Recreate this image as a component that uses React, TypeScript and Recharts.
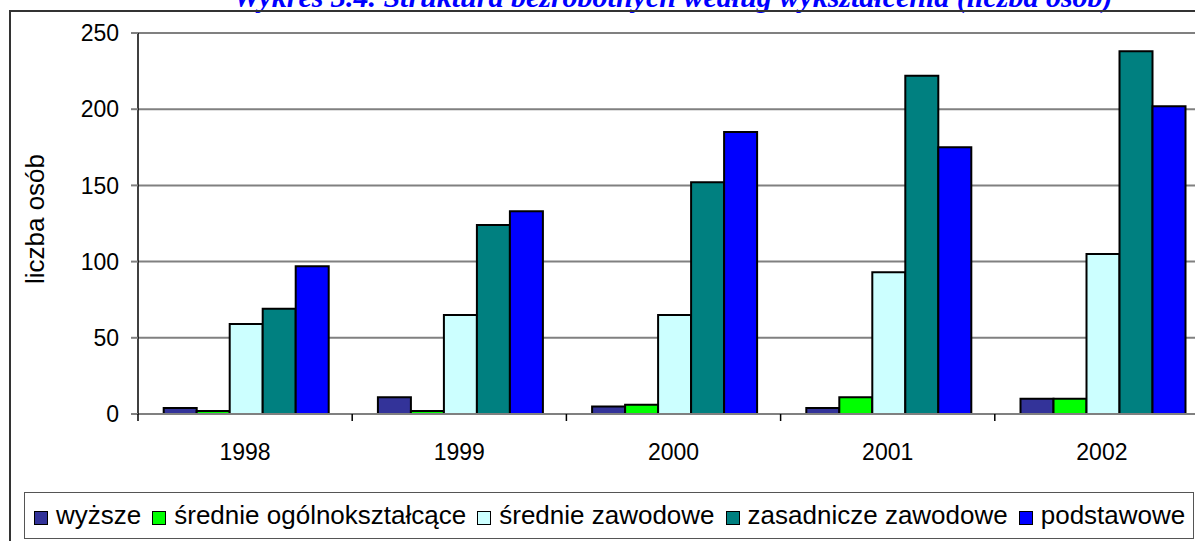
import { BarChart, Bar, XAxis, YAxis, CartesianGrid } from "recharts";

// ─── data ────────────────────────────────────────────────────────────────────
const years = ["1998", "1999", "2000", "2001", "2002"];
const wyzsze = [4, 11, 5, 4, 10];
const srednieOgolne = [2, 2, 6, 11, 10];
const srednieZawodowe = [59, 65, 65, 93, 105];
const zasadniczeZawodowe = [69, 124, 152, 222, 238];
const podstawowe = [97, 133, 185, 175, 202];
const yTicks = [0, 50, 100, 150, 200, 250];

const series = [
  { key: "wyzsze", name: "wyższe", color: "#333399", values: wyzsze },
  { key: "sro", name: "średnie ogólnokształcące", color: "#00FF00", values: srednieOgolne },
  { key: "srz", name: "średnie zawodowe", color: "#CCFFFF", values: srednieZawodowe },
  { key: "zz", name: "zasadnicze zawodowe", color: "#008080", values: zasadniczeZawodowe },
  { key: "pod", name: "podstawowe", color: "#0000FF", values: podstawowe },
];

const data = years.map((year, i) => {
  const row: Record<string, string | number> = { year };
  series.forEach((s) => (row[s.key] = s.values[i]));
  return row;
});

const FONT = "'Liberation Sans', Arial, sans-serif";

// Excel-style category axis: tick marks sit between categories, label in the middle
function YearTick(props: any) {
  const { x, y, payload, width, visibleTicksCount, index } = props;
  const band = width / visibleTicksCount;
  const axisY = y - 30;
  return (
    <g>
      <line x1={x - band / 2} x2={x - band / 2} y1={axisY} y2={axisY + 7} stroke="#000" strokeWidth={1.5} />
      {index === visibleTicksCount - 1 && (
        <line x1={x + band / 2} x2={x + band / 2} y1={axisY} y2={axisY + 7} stroke="#000" strokeWidth={1.5} />
      )}
      <text x={x} y={y} dy="0.71em" textAnchor="middle" fontSize={23} fill="#000" fontFamily={FONT}>
        {payload.value}
      </text>
    </g>
  );
}

export default function App() {
  return (
    <div
      style={{
        position: "fixed",
        left: 0,
        top: 0,
        width: 1195,
        height: 541,
        overflow: "hidden",
        background: "#fff",
        fontFamily: FONT,
      }}
    >
      {/* title, clipped at the top like the source */}
      <div
        style={{
          position: "absolute",
          left: 673,
          top: -20,
          transform: "translateX(-50%)",
          whiteSpace: "nowrap",
          fontFamily: "'Liberation Serif', 'Times New Roman', serif",
          fontStyle: "italic",
          fontWeight: "bold",
          fontSize: 30,
          color: "#0000FF",
        }}
      >
        Wykres 3.4. Struktura bezrobotnych według wykształcenia (liczba osób)
      </div>

      {/* outer frame */}
      <div
        style={{
          position: "absolute",
          left: 9,
          top: 10,
          width: 1300,
          height: 600,
          borderLeft: "2px solid #333",
          borderTop: "2px solid #333",
        }}
      />

      <div style={{ position: "absolute", left: 0, top: 0 }}>
        <BarChart
          width={1230}
          height={480}
          data={data}
          margin={{ top: 33, right: 21, left: 78, bottom: 16 }}
          barCategoryGap="12%"
          barGap={0}
        >
          <CartesianGrid vertical={false} stroke="#808080" strokeWidth={2} />
          <XAxis
            dataKey="year"
            height={50}
            tickLine={false}
            tickSize={8}
            tickMargin={22}
            axisLine={{ stroke: "#808080", strokeWidth: 2 }}
            tick={<YearTick />}
          />
          <YAxis
            width={60}
            domain={[0, 250]}
            ticks={yTicks}
            tickSize={7}
            tickMargin={12}
            axisLine={{ stroke: "#000", strokeWidth: 1.5 }}
            tickLine={{ stroke: "#808080", strokeWidth: 2 }}
            tick={{ fontSize: 23, fill: "#000", fontFamily: FONT }}
          />
          {series.map((s) => (
            <Bar
              key={s.key}
              dataKey={s.key}
              name={s.name}
              fill={s.color}
              stroke="#000"
              strokeWidth={2}
              isAnimationActive={false}
            />
          ))}
        </BarChart>
      </div>

      {/* y axis title */}
      <div
        style={{
          position: "absolute",
          left: 35,
          top: 219,
          transform: "translate(-50%, -50%) rotate(-90deg)",
          whiteSpace: "nowrap",
          fontSize: 26,
          color: "#000",
        }}
      >
        liczba osób
      </div>

      {/* legend */}
      <div
        style={{
          position: "absolute",
          left: 24,
          top: 492,
          width: 1170,
          height: 47,
          boxSizing: "border-box",
          border: "1.5px solid #555",
          display: "flex",
          alignItems: "center",
          paddingLeft: 9,
          fontSize: 26,
          whiteSpace: "nowrap",
          overflow: "hidden",
        }}
      >
        {series.map((s) => (
          <span key={s.key} style={{ display: "inline-flex", alignItems: "center", marginRight: 11 }}>
            <span
              style={{
                display: "inline-block",
                width: 12,
                height: 12,
                marginTop: 4,
                background: s.color,
                border: "1.5px solid #000",
                marginRight: 8,
              }}
            />
            {s.name}
          </span>
        ))}
      </div>
    </div>
  );
}
